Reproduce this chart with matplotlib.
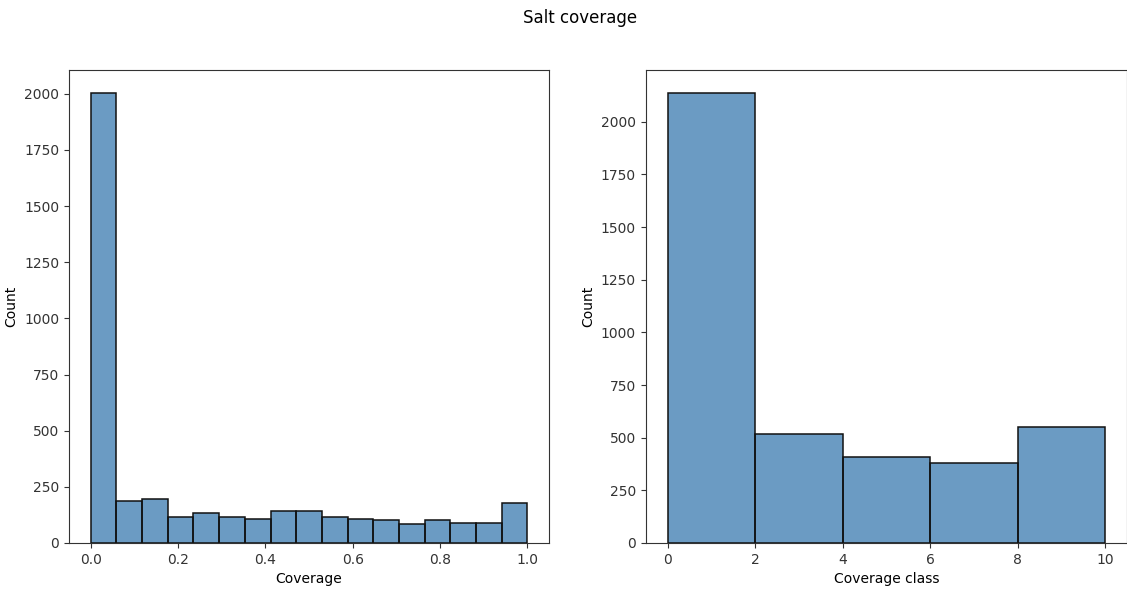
import matplotlib

matplotlib.use("Agg")
import matplotlib.pyplot as plt
import numpy as np

# Left panel: raw coverage histogram (17 bins on [0, 1])
coverage_edges = np.linspace(0.0, 1.0, 18)
coverage_counts = [2005, 186, 195, 116, 132, 116, 109, 141, 141,
                   116, 109, 101, 85, 101, 91, 91, 179]

# Right panel: coverage classes
class_edges = [0, 2, 4, 6, 8, 10]
class_counts = [2139, 519, 410, 378, 550]

bar_color = "steelblue"


def draw_hist(ax, edges, counts, xlabel):
    edges = np.asarray(edges, dtype=float)
    ax.bar(edges[:-1], counts, width=np.diff(edges), align="edge",
           color=bar_color, alpha=0.8, edgecolor="none")
    ax.bar(edges[:-1], counts, width=np.diff(edges), align="edge",
           fill=False, edgecolor="#111111", linewidth=1.1)
    ax.set_xlabel(xlabel)
    ax.set_ylabel("Count")


fig = plt.figure(figsize=(11.27, 6.04), dpi=100)
ax1 = fig.add_axes([0.0612, 0.101, 0.426, 0.783])
ax2 = fig.add_axes([0.573, 0.101, 0.427, 0.783])

draw_hist(ax1, coverage_edges, coverage_counts, "Coverage")
draw_hist(ax2, class_edges, class_counts, "Coverage class")

ax1.set_xticks([0.0, 0.2, 0.4, 0.6, 0.8, 1.0])
ax2.set_xticks([0, 2, 4, 6, 8, 10])
for ax in (ax1, ax2):
    ax.tick_params(labelsize=10, colors="#333333")
    for spine in ax.spines.values():
        spine.set_edgecolor("#333333")

fig.suptitle("Salt coverage", x=0.515, y=0.985, fontsize=12)
fig.savefig("out.png", dpi=100)
